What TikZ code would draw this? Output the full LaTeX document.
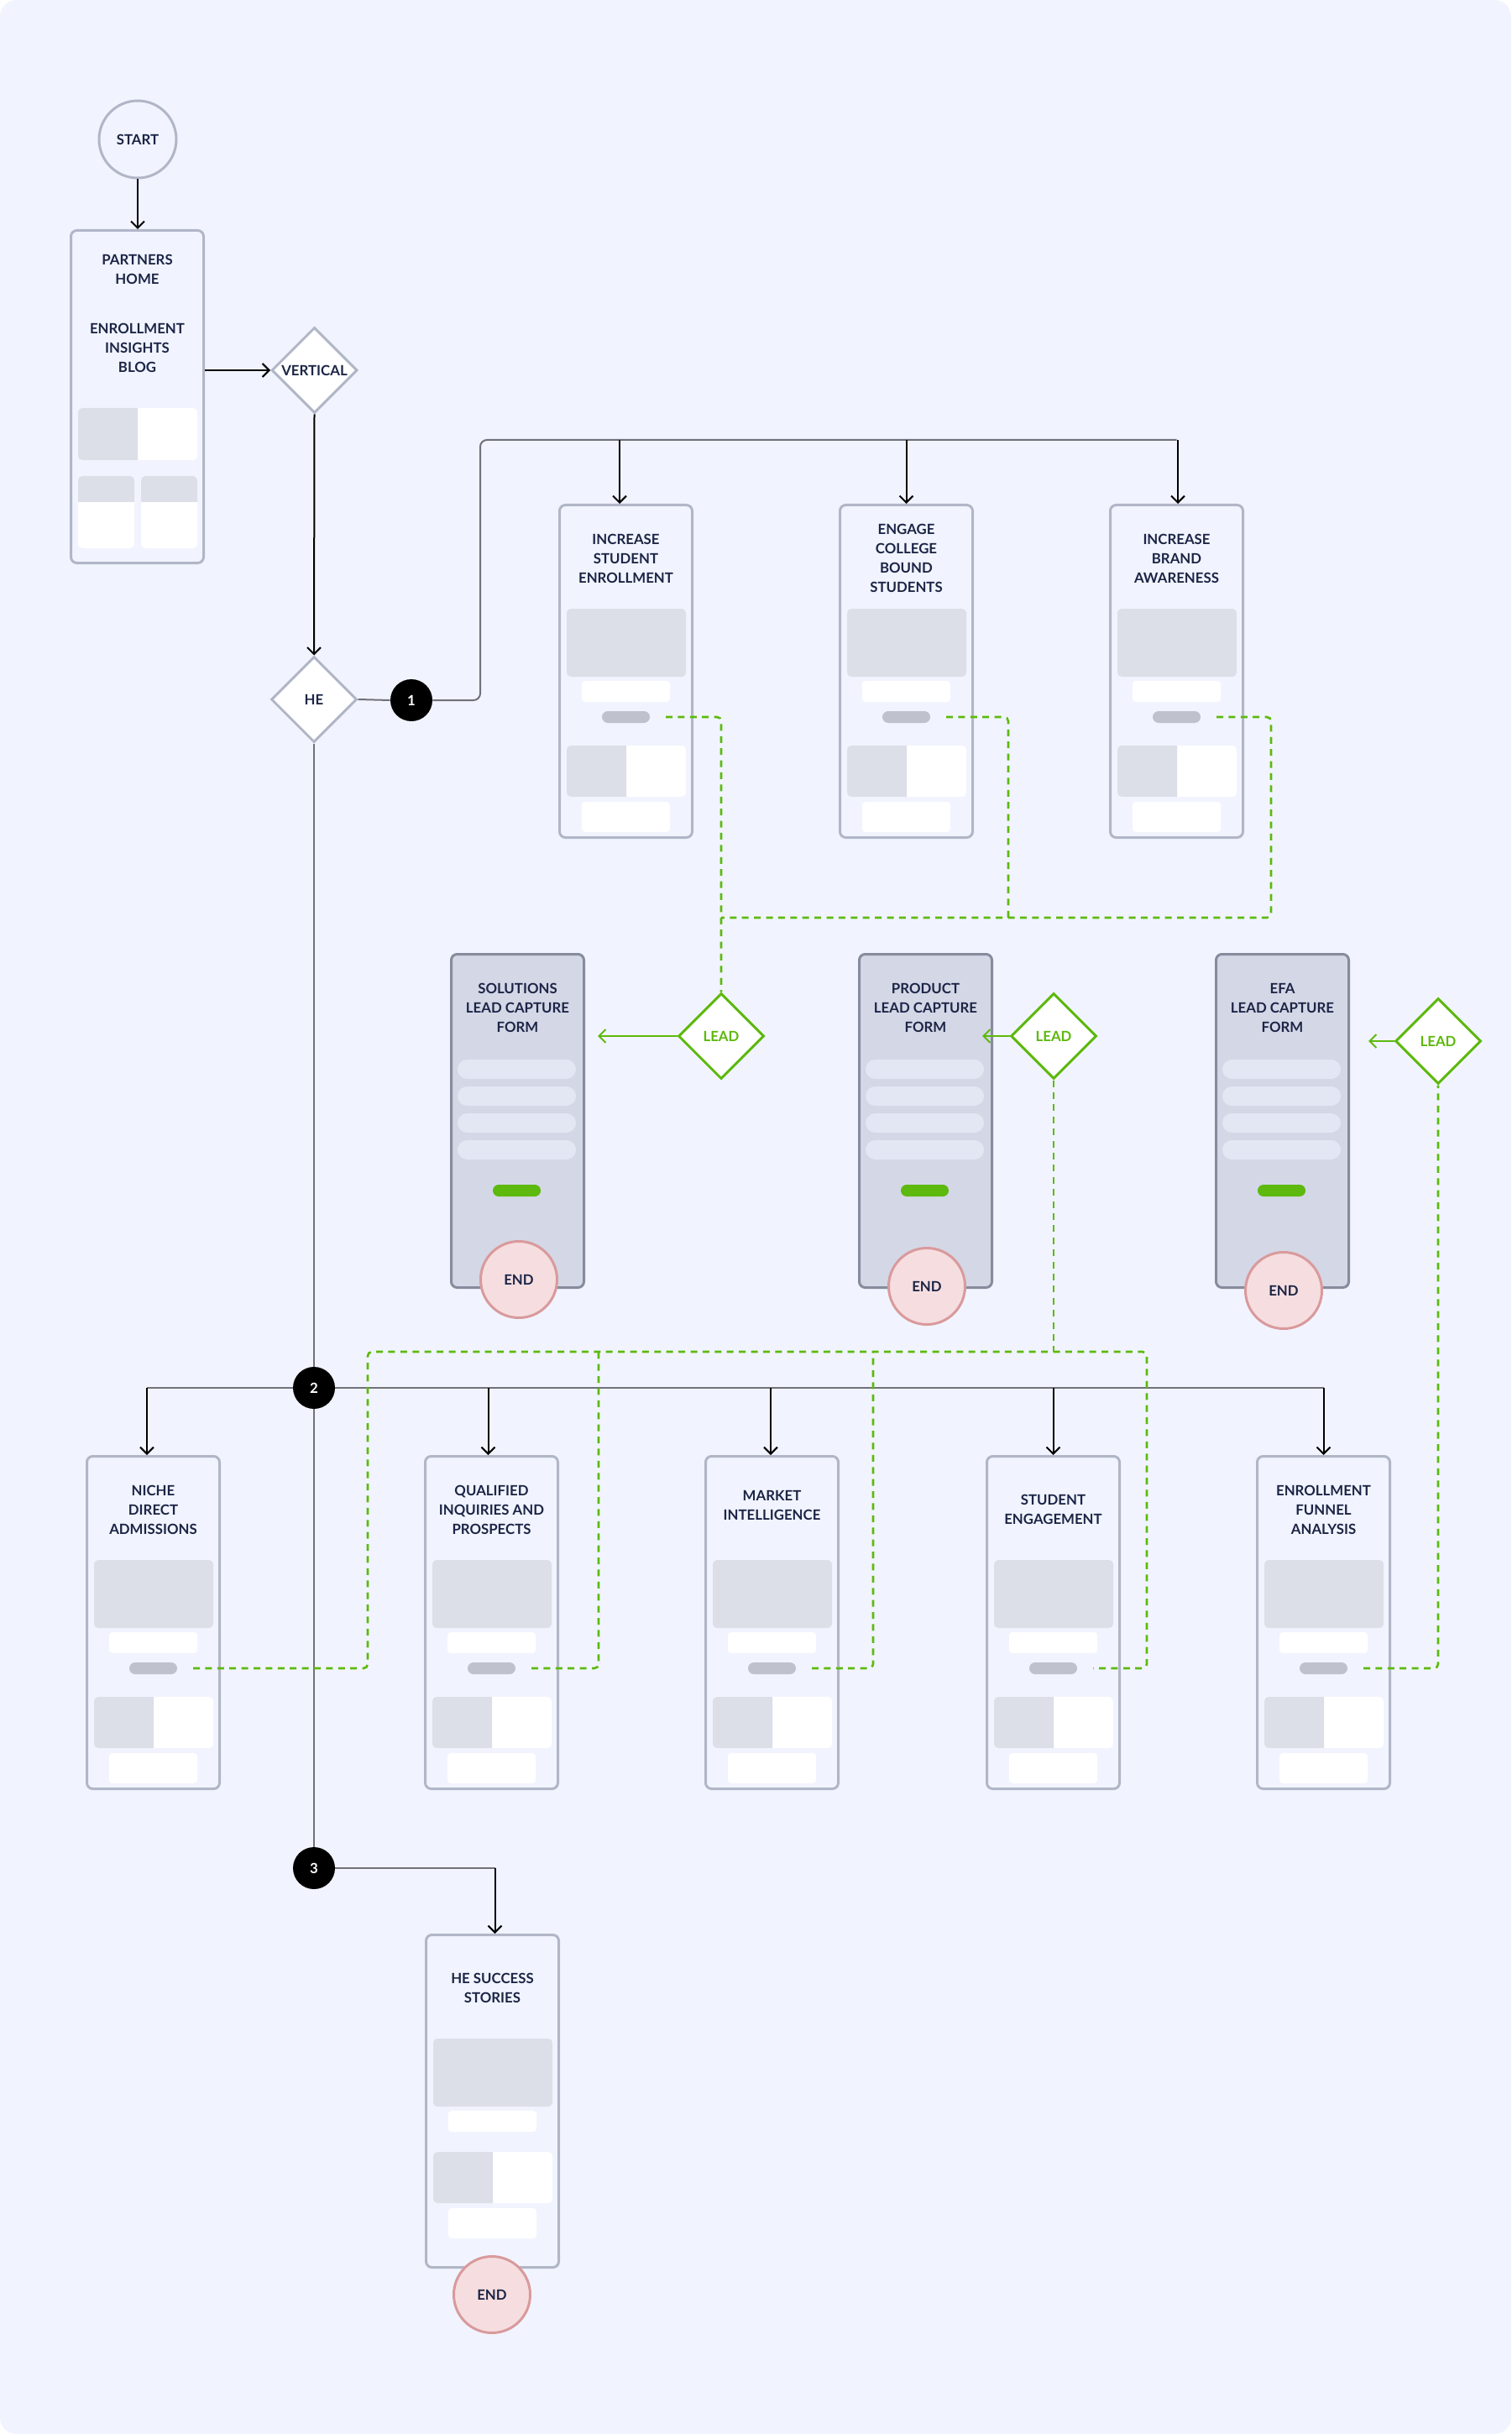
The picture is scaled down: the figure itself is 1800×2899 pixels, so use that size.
\documentclass[tikz,border=0pt]{standalone}
\usepackage{fontspec}
\setmainfont{Lato}
\usetikzlibrary{arrows.meta,shapes.geometric,calc}
\definecolor{bgc}{HTML}{F1F4FE}
\definecolor{cardline}{HTML}{B1B6C7}
\definecolor{blockc}{HTML}{DCDEE8}
\definecolor{pillc}{HTML}{BFC1CD}
\definecolor{formfill}{HTML}{D4D7E6}
\definecolor{formline}{HTML}{868B9D}
\definecolor{fieldc}{HTML}{E3E6F3}
\definecolor{leadg}{HTML}{5DB90D}
\definecolor{endfill}{HTML}{F6DEE0}
\definecolor{endline}{HTML}{D99A9C}
\definecolor{txtc}{HTML}{1C2546}
\definecolor{connc}{HTML}{707179}
\tikzset{
 every node/.style={font=\fontsize{8.4pt}{11.5pt}\selectfont\bfseries, text=txtc},
 cardbox/.style={draw=cardline, fill=bgc, line width=1.5pt, rounded corners=3.5pt, minimum width=79pt, minimum height=198pt, inner sep=0pt},
 formbox/.style={draw=formline, fill=formfill, line width=1.5pt, rounded corners=3.5pt, minimum width=79pt, minimum height=198.5pt, inner sep=0pt},
 cardtxt/.style={align=center, inner sep=0pt},
 endc/.style={circle, draw=endline, fill=endfill, line width=1.5pt, minimum size=45.5pt, inner sep=0pt},
 startc/.style={circle, draw=cardline, fill=bgc, line width=1.5pt, minimum size=46pt, inner sep=0pt},
 numc/.style={circle, fill=black, text=white, minimum size=25pt, inner sep=0pt},
 diam/.style={diamond, draw=cardline, fill=white, line width=1.5pt, minimum size=51pt, inner sep=0pt},
 leadd/.style={diamond, draw=leadg, fill=white, text=leadg, line width=1.5pt, minimum size=51pt, inner sep=0pt},
 arr/.style={draw=black, line width=1pt, -{Straight Barb[length=4pt,width=8pt]}},
 garr/.style={draw=leadg, line width=1pt, -{Straight Barb[length=4pt,width=8pt]}},
 conn/.style={draw=connc, line width=1pt},
 gdash/.style={draw=leadg, line width=1.3pt, dash pattern=on 4pt off 3.2pt, rounded corners=2.5pt},
}
\newcommand\pcard[5]{%
 \begin{scope}[shift={(#2,#3)}]
 \node[cardbox] (#1) at (80.5,199.5) {};
 \node[cardtxt] (#1t) at (80.5,#5) {#4};
 \fill[blockc, rounded corners=2.5pt] (10,125) rectangle (152,206);
 \fill[white, rounded corners=2pt] (28,211) rectangle (133,236);
 \fill[pillc, rounded corners=3.5pt] (52,247) rectangle (109,261);
 \coordinate (#1g) at (128,254);
 \fill[white, rounded corners=2.5pt] (10,288) rectangle (152,349);
 \begin{scope}\clip (10,288) rectangle (81,349);
 \fill[blockc, rounded corners=2.5pt] (10,288) rectangle (152,349);\end{scope}
 \fill[white, rounded corners=2pt] (28,355) rectangle (133,391);
 \end{scope}}
\newcommand\fcard[5]{%
 \begin{scope}[shift={(#2,1135)}]
 \node[formbox] (#1) at (80.5,200) {};
 \node[cardtxt] (#1t) at (80.5,65) {#3};
 \foreach \yy in {127,159,191,223} \fill[fieldc, rounded corners=5.75pt] (9,\yy) rectangle (150,\yy+23);
 \fill[leadg, rounded corners=3.5pt] (51,276) rectangle (108,290);
 \node[endc] (#4) at (82,#5) {END};
 \end{scope}}
\begin{document}
\begin{tikzpicture}[x=0.5pt,y=-0.5pt]
\fill[white] (0,0) rectangle (1800,2899);
\fill[bgc, rounded corners=10pt] (0,0) rectangle (1800,2899);
\useasboundingbox (0,0) rectangle (1800,2899);

% start and partners home
\node[startc] (start) at (164,166) {START};
\node[cardbox, minimum height=198pt] (ph) at (163.5,472.5) {};
\node[cardtxt] (pht1) at (163.5,320.5) {PARTNERS\\HOME};
\node[cardtxt] (pht2) at (163.5,414.5) {ENROLLMENT\\INSIGHTS\\BLOG};
\fill[white, rounded corners=2.5pt] (93,486) rectangle (235,548);
\begin{scope}\clip (93,486) rectangle (164,548);
\fill[blockc, rounded corners=2.5pt] (93,486) rectangle (235,548);\end{scope}
\foreach \xx in {93,168}{
 \fill[white, rounded corners=2.5pt] (\xx,567) rectangle (\xx+67,653);
 \begin{scope}\clip (\xx,567) rectangle (\xx+67,598);
 \fill[blockc, rounded corners=2.5pt] (\xx,567) rectangle (\xx+67,653);\end{scope}}

\node[diam] (vert) at (374.5,441) {VERTICAL};
\node[diam] (he) at (374,833) {HE};
\node[numc] (c1) at (490,834) {1};
\node[numc] (c2) at (374,1653) {2};
\node[numc] (c3) at (374,2225) {3};

% top cards
\pcard{b1}{665}{600}{INCREASE\\STUDENT\\ENROLLMENT}{65}
\pcard{b2}{999}{600}{ENGAGE\\COLLEGE\\BOUND\\STUDENTS}{65}
\pcard{b3}{1321}{600}{INCREASE\\BRAND\\AWARENESS}{65}

% forms
\fcard{sol}{536}{SOLUTIONS\\LEAD CAPTURE\\FORM}{end1}{389}
\fcard{prod}{1022}{PRODUCT\\LEAD CAPTURE\\FORM}{end2}{397}
\fcard{efa}{1447}{EFA\\LEAD CAPTURE\\FORM}{end3}{402}
\node[leadd] (l1) at (859,1234) {LEAD};
\node[leadd] (l2) at (1255,1234) {LEAD};
\node[leadd] (l3) at (1713,1240) {LEAD};

% bottom cards
\pcard{n1}{102}{1733}{NICHE\\DIRECT\\ADMISSIONS}{65}
\pcard{n2}{505}{1733}{QUALIFIED\\INQUIRIES AND\\PROSPECTS}{65}
\pcard{n3}{839}{1733}{MARKET\\INTELLIGENCE}{60}
\pcard{n4}{1174}{1733}{STUDENT\\ENGAGEMENT}{64.5}
\pcard{n5}{1496}{1733}{ENROLLMENT\\FUNNEL\\ANALYSIS}{65}

% HE success stories
\begin{scope}[shift={(506,2303)}]
 \node[cardbox] (hs) at (80.5,199.5) {};
 \node[cardtxt] (hst) at (80.5,65) {HE SUCCESS\\STORIES};
 \fill[blockc, rounded corners=2.5pt] (10,125) rectangle (152,206);
 \fill[white, rounded corners=2pt] (28,211) rectangle (133,236);
 \fill[white, rounded corners=2.5pt] (10,260) rectangle (152,321);
 \begin{scope}\clip (10,260) rectangle (81,321);
 \fill[blockc, rounded corners=2.5pt] (10,260) rectangle (152,321);\end{scope}
 \fill[white, rounded corners=2pt] (28,327) rectangle (133,363);
 \node[endc] (end4) at (80,430) {END};
\end{scope}

% connectors
\draw[arr] (start.south) -- (start.south |- ph.north);
\draw[arr] (ph.east |- vert.west) -- (vert.west);
\draw[arr] (vert.south) -- (he.north);
\draw[conn] (he.east) -- (c1.west);
\coordinate (tb) at (572,524);
\draw[conn, rounded corners=4pt] (c1.east) -| (tb) -- (tb -| b3.north);
\coordinate (b1in) at ([xshift=-3.75pt]b1.north);
\coordinate (b3in) at ([xshift=0.75pt]b3.north);
\draw[arr] (b1in |- tb) -- (b1in);
\draw[arr] (b2.north |- tb) -- (b2.north);
\draw[arr] (b3in |- tb) -- (b3in);

\draw[conn] (he.south) -- (c2.north);
\draw[conn] (c2.south) -- (c3.north);
\coordinate (n1in) at ([xshift=-3.75pt]n1.north);
\coordinate (n2in) at ([xshift=-2pt]n2.north);
\coordinate (n3in) at ([xshift=-0.75pt]n3.north);
\draw[conn] (c2.west) -- (n1in |- c2.west);
\draw[conn] (c2.east) -- (n5.north |- c2.east);
\draw[arr] (n1in |- c2.west) -- (n1in);
\draw[arr] (n2in |- c2.east) -- (n2in);
\draw[arr] (n3in |- c2.east) -- (n3in);
\draw[arr] (n4.north |- c2.east) -- (n4.north);
\draw[arr] (n5.north |- c2.east) -- (n5.north);
\coordinate (hsin) at ([xshift=1.5pt]hs.north);
\draw[conn] (c3.east) -- (hsin |- c3.east);
\draw[arr] (hsin |- c3.east) -- (hsin);

% lead arrows
\coordinate (sola) at ([xshift=7.5pt]sol.east);
\coordinate (proda) at ([xshift=-6.5pt]prod.east);
\coordinate (efaa) at ([xshift=11pt]efa.east);
\draw[garr] (l1.west) -- (sola |- l1.west);
\draw[garr] (l2.west) -- (proda |- l2.west);
\draw[garr] (l3.west) -- (efaa |- l3.west);

% green network 1
\coordinate (gj2) at (1201,1093);
\coordinate (gj3) at (1514,1093);
\draw[gdash] (b1g) -| (l1.north);
\draw[gdash] (b2g) -| (gj2);
\draw[gdash] (b3g) -| (gj3) -- (gj3 -| l1.north);

% green network 2
\coordinate (gL) at (438,1610);
\coordinate (gR) at (1366,1610);
\coordinate (gQ) at (713,1610);
\coordinate (gM) at (1040,1610);
\draw[gdash] (n1g) -| (gL) -- (gR) |- (n4g);
\draw[gdash] (n2g) -| (gQ);
\draw[gdash] (n3g) -| (gM);
\draw[gdash] (l2.south) -- (l2.south |- gL);
\draw[gdash] (n5g) -| (l3.south);
\end{tikzpicture}
\end{document}
